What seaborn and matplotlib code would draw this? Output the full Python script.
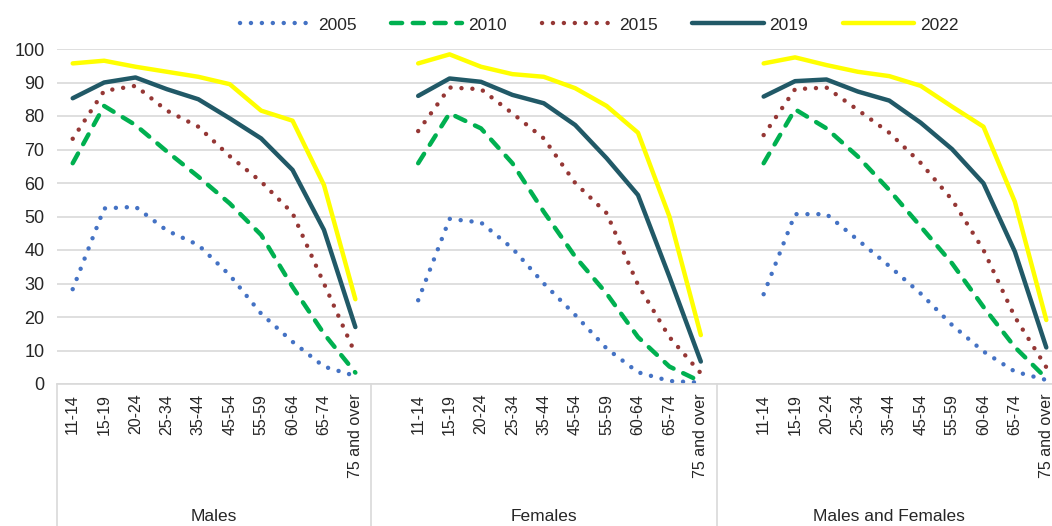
import matplotlib
matplotlib.use("Agg")
import matplotlib.pyplot as plt
from matplotlib.lines import Line2D
import seaborn as sns
import pandas as pd

AGES = ["11-14", "15-19", "20-24", "25-34", "35-44", "45-54", "55-59", "60-64", "65-74", "75 and over"]
GROUPS = ["Males", "Females", "Males and Females"]
YEARS = ["2005", "2010", "2015", "2019", "2022"]

males_2005 = [28.3, 52.4, 52.9, 45.8, 41.5, 32.5, 21.0, 12.6, 5.2, 2.4]
males_2010 = [65.9, 83.0, 77.3, 69.4, 61.9, 53.9, 44.5, 29.0, 15.0, 3.4]
males_2015 = [73.2, 87.5, 89.0, 81.6, 76.8, 68.0, 60.4, 51.0, 30.0, 9.0]
males_2019 = [85.3, 90.0, 91.5, 88.0, 85.0, 79.3, 73.3, 63.9, 46.0, 17.0]
males_2022 = [95.7, 96.5, 94.7, 93.2, 91.7, 89.5, 81.6, 78.6, 59.4, 25.3]

females_2005 = [25.0, 49.3, 48.2, 40.5, 30.0, 20.6, 10.6, 3.5, 0.9, 0.4]
females_2010 = [65.9, 80.8, 76.3, 65.9, 51.4, 38.0, 27.0, 14.0, 5.2, 0.7]
females_2015 = [75.5, 88.5, 88.0, 80.8, 73.3, 60.0, 51.0, 29.6, 14.0, 3.2]
females_2019 = [86.0, 91.2, 90.2, 86.3, 83.8, 77.3, 67.4, 56.4, 32.0, 6.7]
females_2022 = [95.7, 98.4, 94.7, 92.5, 91.7, 88.3, 83.0, 75.0, 50.0, 14.6]

both_2005 = [26.8, 50.7, 50.7, 43.0, 35.2, 27.0, 17.6, 9.7, 3.7, 1.2]
both_2010 = [65.9, 82.0, 76.3, 67.9, 57.9, 47.0, 36.0, 23.0, 11.0, 1.7]
both_2015 = [74.3, 88.0, 88.5, 81.8, 75.0, 66.0, 55.0, 40.0, 20.0, 5.0]
both_2019 = [85.8, 90.4, 90.9, 87.3, 84.6, 78.0, 70.1, 59.9, 39.5, 10.9]
both_2022 = [95.7, 97.5, 95.2, 93.2, 91.9, 89.0, 82.8, 76.8, 54.4, 19.1]

series = {
    "Males": [males_2005, males_2010, males_2015, males_2019, males_2022],
    "Females": [females_2005, females_2010, females_2015, females_2019, females_2022],
    "Males and Females": [both_2005, both_2010, both_2015, both_2019, both_2022],
}

# long table; each group takes 11 slots on the category axis (10 ages + a blank)
rows = []
for g, group in enumerate(GROUPS):
    for y, year in enumerate(YEARS):
        for i, age in enumerate(AGES):
            rows.append({"group": group, "year": year, "age": age,
                         "pos": g * 11 + i, "value": series[group][y][i]})
df = pd.DataFrame(rows)

styles = {
    "2005": dict(color="#4472C4", linewidth=3.2, linestyle=(0, (0.01, 2.45)), dash_capstyle="round"),
    "2010": dict(color="#00B050", linewidth=3.2, linestyle=(0, (2.5, 2.4)), dash_capstyle="round"),
    "2015": dict(color="#953735", linewidth=3.2, linestyle=(0, (0.01, 2.45)), dash_capstyle="round"),
    "2019": dict(color="#215967", linewidth=3.2, linestyle="-", solid_capstyle="round"),
    "2022": dict(color="#FFFF00", linewidth=3.2, linestyle="-", solid_capstyle="round"),
}

sns.set_style("white")
plt.rcParams["font.family"] = ["Liberation Sans", "DejaVu Sans"]

fig = plt.figure(figsize=(10.52, 5.26), dpi=100)
ax = fig.add_axes([57 / 1052, 1 - 384 / 526, 1005 / 1052, 335 / 526])

for year in YEARS:
    sns.lineplot(data=df[df["year"] == year], x="pos", y="value", units="group",
                 estimator=None, ax=ax, legend=False, **styles[year])

ax.set_xlim(-0.5, 31.5)
ax.set_ylim(0, 100)
ax.set_yticks(range(0, 101, 10))
ax.yaxis.grid(True, color="#D9D9D9", linewidth=1.2)
ax.xaxis.grid(False)
ax.set_axisbelow(True)
for side in ["left", "right", "top"]:
    ax.spines[side].set_visible(False)
ax.spines["bottom"].set_color("#D9D9D9")
ax.spines["bottom"].set_linewidth(1.2)

positions = [g * 11 + i for g in range(len(GROUPS)) for i in range(len(AGES))]
ax.set_xticks(positions)
ax.set_xticklabels(AGES * len(GROUPS), rotation=90, fontsize=11.5)
ax.tick_params(axis="x", length=0, pad=7)
ax.tick_params(axis="y", length=0, pad=9, labelsize=13)
ax.set_xlabel("")
ax.set_ylabel("")

# group separators and group names under the tick labels
trans = ax.get_xaxis_transform()
for xs in [-0.5, 9.5, 20.5]:
    ax.plot([xs, xs], [0, -0.6], transform=trans, color="#D9D9D9",
            linewidth=1.2, clip_on=False)
for name, center in zip(GROUPS, [4.5, 15, 26]):
    ax.text(center, -0.397, name, transform=trans, ha="center", va="center", fontsize=12.5)

handles = [Line2D([0], [0], **styles[y]) for y in YEARS]
fig.legend(handles, YEARS, loc="center", bbox_to_anchor=(0.57, 1 - 25 / 526), ncol=5,
           frameon=False, fontsize=12.5, handlelength=4.1, handletextpad=0.35,
           columnspacing=2.0)

fig.savefig("out.png", dpi=100)
